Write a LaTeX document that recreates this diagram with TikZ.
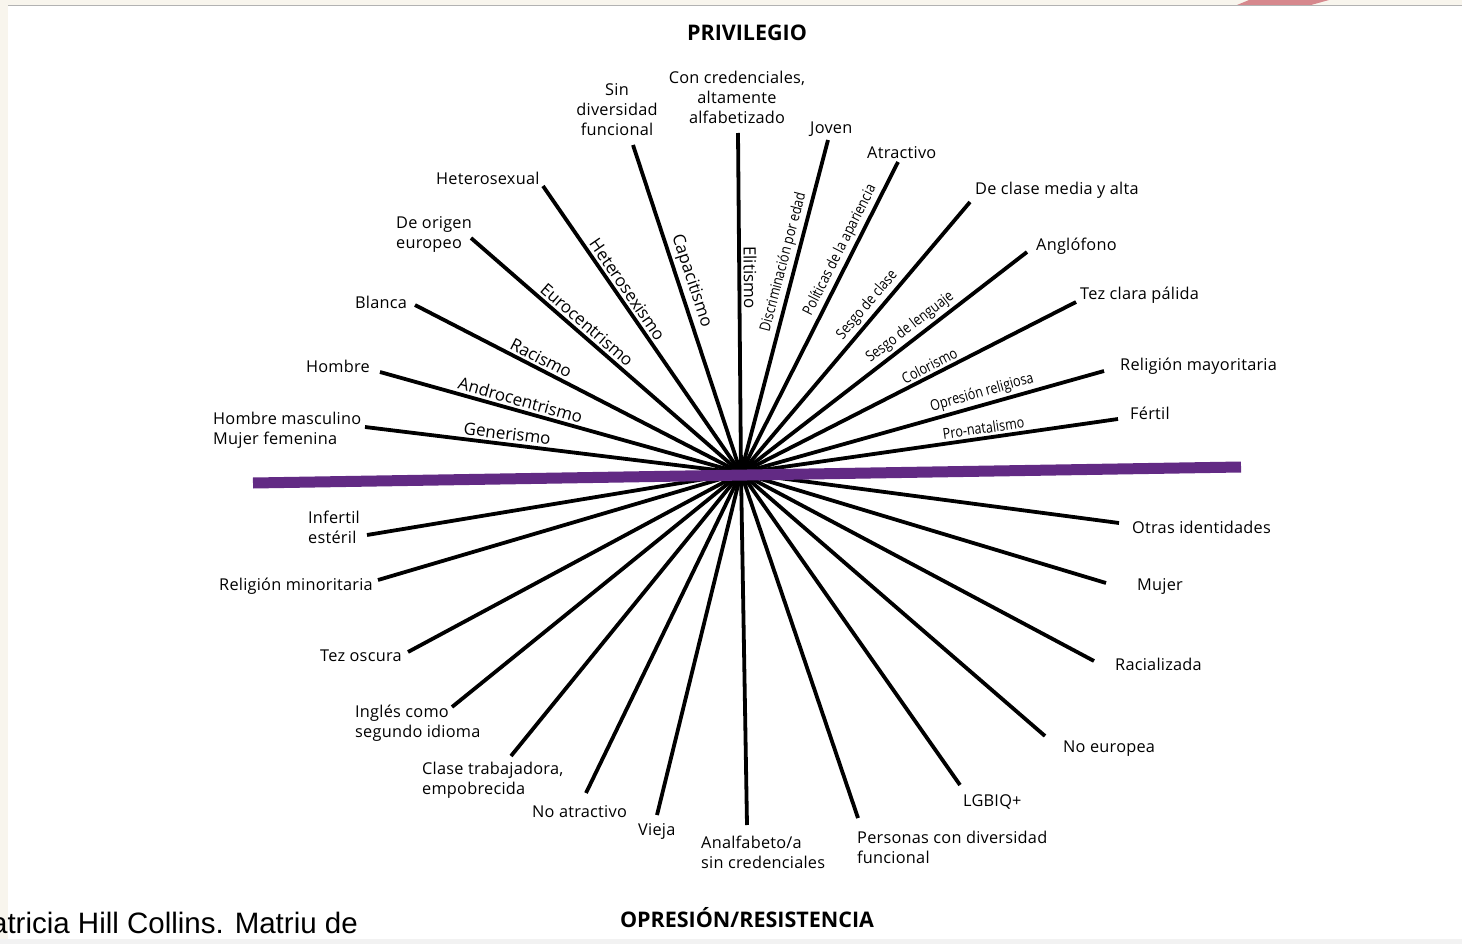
\documentclass[tikz,border=0pt]{standalone}
\usepackage{fontspec}
\setmainfont{Open Sans}
\newfontfamily\lblfont[LetterSpace=1.5]{Open Sans}
\newfontfamily\condfont[FakeStretch=0.84]{Open Sans}
\newfontfamily\notefont{Liberation Sans}
\definecolor{axispurple}{RGB}{98,42,132}
\definecolor{pagebeige}{RGB}{248,245,237}
\definecolor{tabpink}{RGB}{214,136,141}
\tikzset{
  ray/.style={line width=3.8pt, black},
  axisline/.style={line width=11pt, axispurple},
  lbl/.style={font=\lblfont\fontsize{16.3}{20}\selectfont, inner sep=0pt},
  rl/.style={font=\fontsize{17}{17}\selectfont, sloped, above, inner sep=2.5pt},
  rc/.style={font=\condfont\fontsize{15}{15}\selectfont, sloped, above, inner sep=2.5pt},
  ttl/.style={font=\bfseries\fontsize{21.5}{24}\selectfont, inner sep=0pt},
  notetext/.style={font=\notefont\fontsize{29.5}{30}\selectfont, inner sep=0pt}
}
\begin{document}
\begin{tikzpicture}[x=1pt,y=-1pt]
\useasboundingbox (0,0) rectangle (1462,944);
\clip (0,0) rectangle (1462,944);
% page background
\fill[white] (0,0) rectangle (1462,944);
\fill[pagebeige] (0,0) rectangle (8,944);
\fill[pagebeige] (0,0) rectangle (1462,5);
\fill[black!5] (0,939) rectangle (1462,944);
\draw[black!30, line width=1.2pt] (8,5.5) -- (1462,5.5);
\fill[tabpink] (1237,5) -- (1249,0) -- (1329,0) -- (1311,5) -- cycle;

% centre
\coordinate (c) at (741,473);
% upper end points
\coordinate (eHM) at (365,427);
\coordinate (eH) at (380,372);
\coordinate (eB) at (415,305);
\coordinate (eDO) at (471,238);
\coordinate (eHet) at (543,186);
\coordinate (eSD) at (633,145);
\coordinate (eCC) at (738,133);
\coordinate (eJ) at (828,140);
\coordinate (eA) at (898,162);
\coordinate (eDC) at (970,202);
\coordinate (eAn) at (1027,252);
\coordinate (eTC) at (1076,302);
\coordinate (eRM) at (1104,371);
\coordinate (eF) at (1118,419);
% lower end points
\coordinate (eI) at (367,535);
\coordinate (eRmin) at (378,580);
\coordinate (eTO) at (408,652);
\coordinate (eIng) at (452,707);
\coordinate (eCT) at (511,756);
\coordinate (eNA) at (586,793);
\coordinate (eV) at (657,815);
\coordinate (eAnf) at (747,825);
\coordinate (ePD) at (858,818);
\coordinate (eL) at (960,785);
\coordinate (eNE) at (1045,736);
\coordinate (eR) at (1094,661);
\coordinate (eM) at (1106,583);
\coordinate (eOI) at (1119,523);

% upper rays with their labels
\draw[ray] (c) -- (eHM) node[rl, pos=0.625] (gGen) {Generismo};
\draw[ray] (c) -- (eH) node[rl, pos=0.619] (gAndro) {Androcentrismo};
\draw[ray] (c) -- (eB) node[rl, pos=0.628] (gRac) {Racismo};
\draw[ray] (c) -- (eDO) node[rl, pos=0.596] (gEuro) {Eurocentrismo};
\draw[ray] (c) -- (eHet) node[rl, pos=0.618] (gHet) {Heterosexismo};
\draw[ray] (c) -- (eSD) node[rl, pos=0.573] (gCap) {Capacitismo};
\draw[ray] (c) -- (eCC) node[rl, pos=0.575] (gElit) {Elitismo};
\draw[ray] (c) -- (eJ) node[rc, pos=0.624] (gEdad) {Discriminación por edad};
\draw[ray] (c) -- (eA) node[rc, pos=0.699] (gApar) {Políticas de la apariencia};
\draw[ray] (c) -- (eDC) node[rc, pos=0.591] (gClase) {Sesgo de clase};
\draw[ray] (c) -- (eAn) node[rc, pos=0.617] (gLeng) {Sesgo de lenguaje};
\draw[ray] (c) -- (eTC) node[rc, pos=0.576] (gColor) {Colorismo};
\draw[ray] (c) -- (eRM) node[rc, pos=0.673] (gRelig) {Opresión religiosa};
\draw[ray] (c) -- (eF) node[rc, pos=0.647] (gNat) {Pro-natalismo};
% lower rays
\foreach \e in {eI,eRmin,eTO,eIng,eCT,eNA,eV,eAnf,ePD,eL,eNE,eR,eM,eOI}
  \draw[ray] (c) -- (\e);

% purple axis
\coordinate (aL) at (253,483);
\coordinate (aR) at (1241,467);
\draw[axisline] (aL) -- (aR);

% upper labels
\node[lbl, anchor=west, align=left] (tHM) at (213,430) {Hombre masculino\\Mujer femenina};
\node[lbl, anchor=east] (tH) at (370,366) {Hombre};
\node[lbl, anchor=west] (tB) at (355,302) {Blanca};
\node[lbl, anchor=west, align=left] (tDO) at (396,234) {De origen\\europeo};
\node[lbl, anchor=west] (tHet) at (436,178) {Heterosexual};
\node[lbl, align=center] (tSD) at (617,110) {Sin\\diversidad\\funcional};
\node[lbl, align=center] (tCC) at (737,97) {Con credenciales,\\altamente\\alfabetizado};
\node[lbl, anchor=west] (tJ) at (810,129) {Joven};
\node[lbl, anchor=west] (tA) at (867,153) {Atractivo};
\node[lbl, anchor=west] (tDC) at (975,190) {De clase media y alta};
\node[lbl, anchor=west] (tAn) at (1036,246) {Anglófono};
\node[lbl, anchor=west] (tTC) at (1080,295) {Tez clara pálida};
\node[lbl, anchor=west] (tRM) at (1120,366) {Religión mayoritaria};
\node[lbl, anchor=west] (tF) at (1130,413) {Fértil};
% lower labels
\node[lbl, anchor=west, align=left] (tI) at (308,527) {Infertil\\estéril};
\node[lbl, anchor=west] (tRmin) at (219,586) {Religión minoritaria};
\node[lbl, anchor=west] (tTO) at (320,656) {Tez oscura};
\node[lbl, anchor=west, align=left] (tIng) at (355,723) {Inglés como\\segundo idioma};
\node[lbl, anchor=west, align=left] (tCT) at (422,780) {Clase trabajadora,\\empobrecida};
\node[lbl, anchor=west] (tNA) at (532,812) {No atractivo};
\node[lbl, anchor=west] (tV) at (638,831) {Vieja};
\node[lbl, anchor=west, align=left] (tAnf) at (701,852) {Analfabeto/a\\sin credenciales};
\node[lbl, anchor=west, align=left] (tPD) at (857,847) {Personas con diversidad\\funcional};
\node[lbl, anchor=west] (tL) at (963,802) {LGBIQ+};
\node[lbl, anchor=west] (tNE) at (1063,749) {No europea};
\node[lbl, anchor=west] (tR) at (1115,664) {Racializada};
\node[lbl, anchor=west] (tM) at (1137,586) {Mujer};
\node[lbl, anchor=west] (tOI) at (1132,527) {Otras identidades};

% titles
\node[ttl] (tPriv) at (747,33) {PRIVILEGIO};
\node[ttl] (tOpr) at (747,918) {OPRESIÓN/RESISTENCIA};
\node[notetext, anchor=base east] (tNote) at (358,933) {Patricia Hill Collins. Matriu de};
\end{tikzpicture}
\end{document}
